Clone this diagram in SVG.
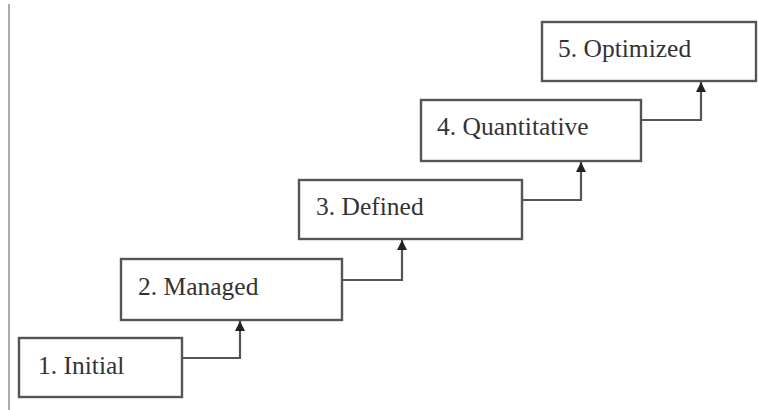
<svg xmlns="http://www.w3.org/2000/svg" width="758" height="410" viewBox="0 0 758 410">
<style>
.box{fill:#fff;stroke:#555;stroke-width:2.4}
.lbl{font-family:"Liberation Serif","Times New Roman",serif;font-size:25.5px;fill:#333}
.con{fill:none;stroke:#555;stroke-width:2.2}
</style>
<defs>
<marker id="ah" viewBox="0 0 10 10" refX="10" refY="5" markerWidth="10" markerHeight="10" markerUnits="userSpaceOnUse" orient="auto">
<path d="M0,0 L10,5 L0,10 Z" fill="#222"/>
</marker>
</defs>
<rect width="758" height="410" fill="#fff"/>
<line x1="9" y1="4" x2="9" y2="410" stroke="#aaa" stroke-width="2"/>
<g id="connectors">
<path class="con" d="M182,358 H240 V321" marker-end="url(#ah)"/>
<path class="con" d="M342,280 H402 V240" marker-end="url(#ah)"/>
<path class="con" d="M522,200 H581 V162" marker-end="url(#ah)"/>
<path class="con" d="M641,120 H701 V82" marker-end="url(#ah)"/>
</g>
<g id="n1"><rect class="box" x="19" y="338" width="163" height="59"/><text class="lbl" x="38" y="374">1. Initial</text></g>
<g id="n2"><rect class="box" x="121" y="259" width="221" height="61"/><text class="lbl" x="138" y="295">2. Managed</text></g>
<g id="n3"><rect class="box" x="299" y="180" width="223" height="59"/><text class="lbl" x="316" y="215">3. Defined</text></g>
<g id="n4"><rect class="box" x="421" y="100" width="220" height="61"/><text class="lbl" x="437" y="135">4. Quantitative</text></g>
<g id="n5"><rect class="box" x="542" y="22" width="214" height="59"/><text class="lbl" x="558" y="57">5. Optimized</text></g>
</svg>
